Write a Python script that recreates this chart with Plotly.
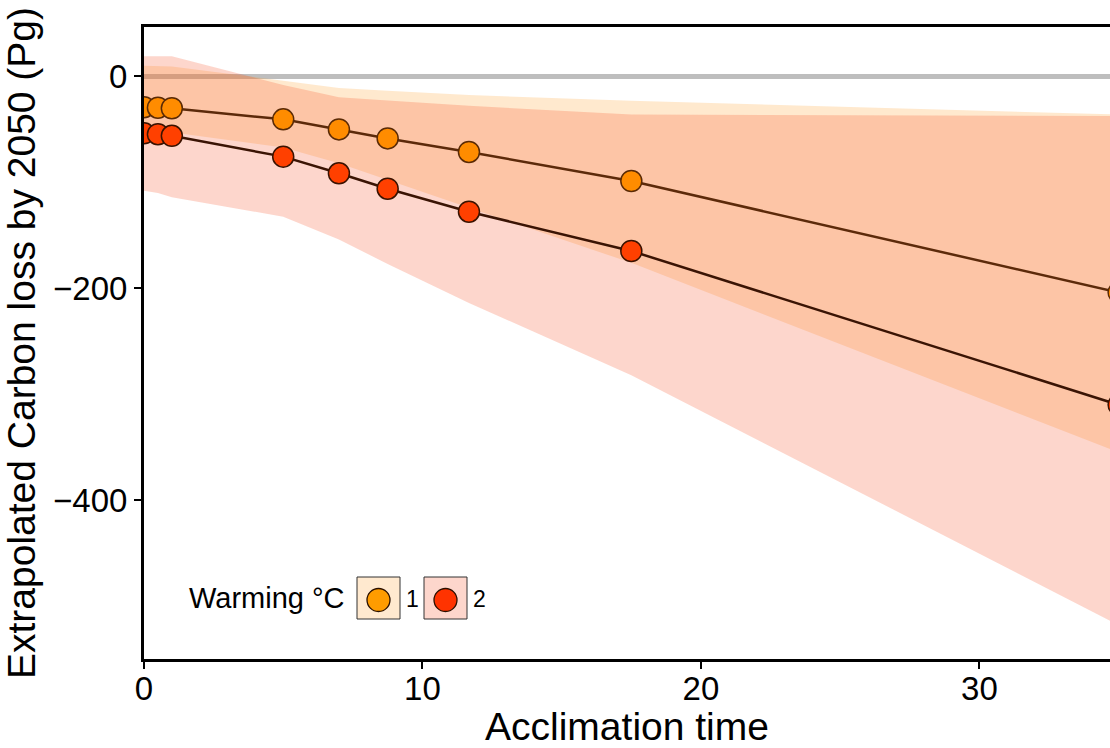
import plotly.graph_objects as go

# ---- data ----
acclimation_time = [0, 0.5, 1, 5, 7, 8.75, 11.67, 17.5, 35]
loss_1c = [-29, -29.5, -30, -40.5, -50, -58.5, -71.3, -98.7, -204]
loss_2c = [-53.7, -54.5, -56, -75.7, -91.4, -106, -127.7, -164.8, -310]
upper_1c = [10, 10, 9.5, -4, -11, -13.5, -17.5, -23, -36]
lower_1c = [-50, -51, -53, -67, -82, -98, -124, -176, -355]
upper_2c = [19, 19, 19, -8, -19.6, -22.6, -27.7, -36, -37.3]
lower_2c = [-108, -110, -114, -132.4, -154, -177, -213.8, -282, -518]
warming_labels = ["1", "2"]
x_ticks = [0, 10, 20, 30]
y_ticks = [0, -200, -400]

FONT = "Liberation Sans, Arial, Helvetica, sans-serif"
W, H = 1110, 748
ML, MR, MT, MB = 144, 0, 27, 89
PW, PH = W - ML - MR, H - MT - MB


def px(xp):
    return (xp - ML) / PW


def py(yp):
    return (H - MB - yp) / PH


band_cols = ["rgba(255,159,42,0.23)", "rgba(246,77,33,0.23)"]
marker_cols = ["#FF8C00", "#FF4000"]
marker_line = ["#5A2A05", "#3A1200"]
line_cols = ["#5C2A0A", "#3A1404"]

fig = go.Figure()

for lo, hi, col in [(lower_1c, upper_1c, band_cols[0]), (lower_2c, upper_2c, band_cols[1])]:
    fig.add_trace(go.Scatter(
        x=acclimation_time + acclimation_time[::-1],
        y=hi + lo[::-1],
        fill="toself", fillcolor=col, mode="lines",
        line=dict(width=0, color=col), hoverinfo="skip", showlegend=False,
    ))

for ys, i in [(loss_1c, 0), (loss_2c, 1)]:
    fig.add_trace(go.Scatter(
        x=acclimation_time, y=ys, mode="lines+markers",
        line=dict(color=line_cols[i], width=2.5),
        marker=dict(size=21, color=marker_cols[i], line=dict(color=marker_line[i], width=1.5)),
        name=warming_labels[i], showlegend=False,
    ))

shapes = [dict(type="line", xref="paper", x0=0, x1=1, yref="y", y0=0, y1=0,
               line=dict(color="#BEBEBE", width=5), layer="below")]

# manual legend
leg_fill = ["#FFE9CF", "#FDD6CC"]
leg_marker = ["#FF9C00", "#FF3300"]
box_left = [357, 424]
annotations = [dict(text="Warming °C", xref="paper", yref="paper", x=px(347), y=py(598),
                    xanchor="right", yanchor="middle", showarrow=False,
                    font=dict(family=FONT, size=29, color="black"))]
for i in range(2):
    bl = box_left[i]
    shapes.append(dict(type="rect", xref="paper", yref="paper",
                       x0=px(bl), x1=px(bl + 43), y0=py(619), y1=py(577),
                       fillcolor=leg_fill[i], line=dict(color="#333333", width=1), layer="above"))
    cx, cy, r = bl + 21.5, 600, 11.5
    shapes.append(dict(type="circle", xref="paper", yref="paper",
                       x0=px(cx - r), x1=px(cx + r), y0=py(cy + r), y1=py(cy - r),
                       fillcolor=leg_marker[i], line=dict(color="#2A1000", width=1.3), layer="above"))
    annotations.append(dict(text=warming_labels[i], xref="paper", yref="paper",
                            x=px(bl + 47), y=py(599), xanchor="left", yanchor="middle",
                            showarrow=False, font=dict(family=FONT, size=23, color="black")))

fig.update_layout(
    width=W, height=H,
    margin=dict(l=ML, r=MR, t=MT, b=MB),
    paper_bgcolor="white", plot_bgcolor="white",
    font=dict(family=FONT, color="black"),
    shapes=shapes, annotations=annotations,
    showlegend=False,
    xaxis=dict(range=[0, 34.69], tickvals=x_ticks, ticks="outside", ticklen=7, tickwidth=1.5,
               tickcolor="black", showline=True, linewidth=3, linecolor="black", mirror=True,
               showgrid=False, zeroline=False, tickfont=dict(size=33, family=FONT),
               ticklabelstandoff=-9,
               title=dict(text="Acclimation time", font=dict(size=39, family=FONT), standoff=6)),
    yaxis=dict(range=[-550, 46.7], tickvals=y_ticks, ticks="outside", ticklen=7, tickwidth=1.5,
               tickcolor="black", showline=True, linewidth=3, linecolor="black",
               showgrid=False, zeroline=False, tickfont=dict(size=33, family=FONT),
               title=dict(text="Extrapolated Carbon loss by 2050 (Pg)",
                          font=dict(size=39, family=FONT), standoff=8)),
)

fig.write_html("out.html")
